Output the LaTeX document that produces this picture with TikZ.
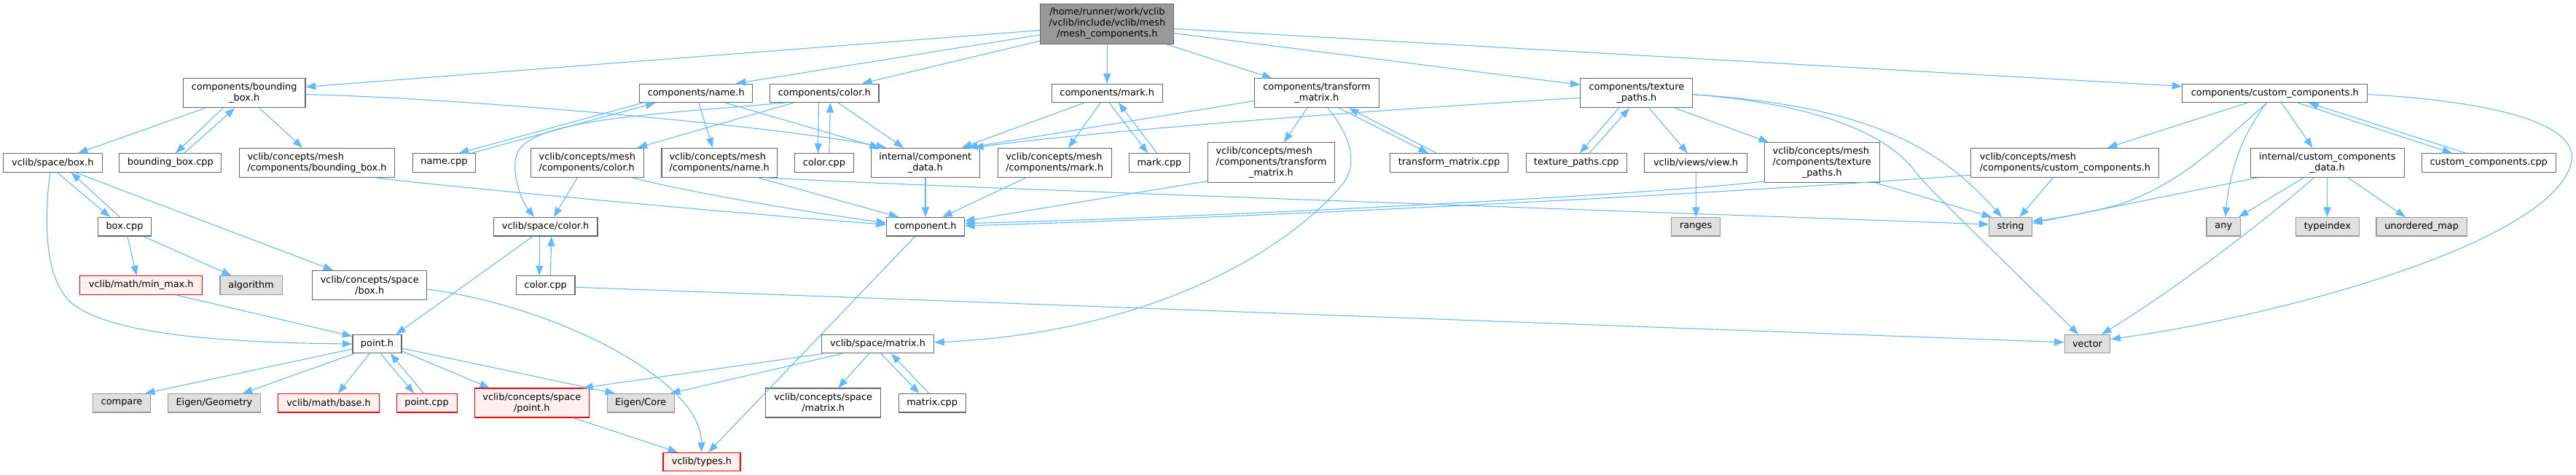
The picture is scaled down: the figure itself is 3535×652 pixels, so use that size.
\documentclass[tikz,border=0pt]{standalone}
\usepackage{fontspec}
\setmainfont{DejaVu Sans}
\usetikzlibrary{arrows.meta}
\definecolor{eb}{HTML}{63B8FF}
\definecolor{bd}{HTML}{666666}
\definecolor{gb}{HTML}{999999}
\definecolor{gf}{HTML}{E0E0E0}
\definecolor{rf}{HTML}{FFF0F0}
\definecolor{tf}{HTML}{999999}
\newcommand\nodefont{\fontsize{12.9}{15}\selectfont}
\begin{document}
\begin{tikzpicture}[x=1pt,y=-1pt,
  nd/.style={draw=bd, line width=1.1pt, fill=white, inner xsep=2pt, inner ysep=0pt, font=\nodefont, minimum height=25.4pt, text=black},
  gr/.style={nd, draw=gb, fill=gf},
  rd/.style={nd, draw=red, fill=rf},
  topnode/.style={nd, fill=tf},
  h2/.style={minimum height=40pt},
  h3/.style={minimum height=55pt},
  e/.style={-{Triangle[length=13.5pt,width=10pt]}, draw=eb, line width=1.1pt}]
\useasboundingbox (0,0) rectangle (3535,652);
% ---------- nodes
\node[topnode, minimum width=183pt, h3, align=center] (T) at (1519.4,32.6) {/home/runner/work/vclib\\/vclib/include/vclib/mesh\\/mesh\_components.h};
% row 2
\node[nd, minimum width=167.6pt, h2, align=center] (BB) at (335.2,127.85) {components/bounding\\\_box.h};
\node[nd, minimum width=155pt] (NM) at (955.2,127.85) {components/name.h};
\node[nd, minimum width=149.5pt] (CL) at (1131.2,127.85) {components/color.h};
\node[nd, minimum width=152pt] (MK) at (1519.2,127.85) {components/mark.h};
\node[nd, minimum width=171pt, h2, align=center] (TM) at (1806.9,127.85) {components/transform\\\_matrix.h};
\node[nd, minimum width=154pt, h2, align=center] (TP) at (2245.9,127.85) {components/texture\\\_paths.h};
\node[nd, minimum width=254pt] (CC) at (3121.8,127.85) {components/custom\_components.h};
% row 3
\node[nd, minimum width=135.5pt] (SB) at (72.3,223.5) {vclib/space/box.h};
\node[nd, minimum width=140pt] (BBC) at (233.8,223.5) {bounding\_box.cpp};
\node[nd, minimum width=213.5pt, h2, align=left] (CBB) at (435.1,223.3) {vclib/concepts/mesh\\/components/bounding\_box.h};
\node[nd, minimum width=86.4pt] (NC) at (609.5,223.5) {name.cpp};
\node[nd, minimum width=154.6pt, h2, align=left] (CCL) at (805.8,223.3) {vclib/concepts/mesh\\/components/color.h};
\node[nd, minimum width=158.5pt, h2, align=left] (CNM) at (987.2,223.3) {vclib/concepts/mesh\\/components/name.h};
\node[nd, minimum width=80.4pt] (CLC) at (1131,223.5) {color.cpp};
\node[nd, minimum width=149.2pt, h2, align=center] (ICD) at (1269.8,223.3) {internal/component\\\_data.h};
\node[nd, minimum width=155.8pt, h2, align=left] (CMK) at (1447.2,223.3) {vclib/concepts/mesh\\/components/mark.h};
\node[nd, minimum width=83pt] (MKC) at (1591,223.5) {mark.cpp};
\node[nd, minimum width=174.7pt, h3] (CTM) at (1744.5,223.3) {\begin{tabular}{@{}l@{}}vclib/concepts/mesh\\/components/transform\\\multicolumn{1}{@{}c@{}}{\_matrix.h}\end{tabular}};
\node[nd, minimum width=162.6pt] (TMC) at (1988.5,223.5) {transform\_matrix.cpp};
\node[nd, minimum width=138.5pt] (TPC) at (2163.3,223.5) {texture\_paths.cpp};
\node[nd, minimum width=141.5pt] (VW) at (2327,223.5) {vclib/views/view.h};
\node[nd, minimum width=157.7pt, h3] (CTP) at (2500.2,223.3) {\begin{tabular}{@{}l@{}}vclib/concepts/mesh\\/components/texture\\\multicolumn{1}{@{}c@{}}{\_paths.h}\end{tabular}};
\node[nd, minimum width=258pt, h2, align=left] (CCC) at (2833.9,223.3) {vclib/concepts/mesh\\/components/custom\_components.h};
\node[nd, minimum width=211pt, h2, align=center] (ICCD) at (3193.8,223.3) {internal/custom\_components\\\_data.h};
\node[nd, minimum width=184pt] (CCP) at (3415.2,223.5) {custom\_components.cpp};
% row 4
\node[nd, minimum width=73.5pt] (BXC) at (171,311.25) {box.cpp};
\node[nd, minimum width=142.7pt] (SCL) at (748.6,311.25) {vclib/space/color.h};
\node[nd, minimum width=106.8pt] (CH) at (1270,311.25) {component.h};
\node[gr, minimum width=67pt] (RG) at (2327.2,311.25) {ranges};
\node[gr, minimum width=58.6pt] (STR) at (2759.1,311.25) {string};
\node[gr, minimum width=46.6pt] (ANY) at (3051.3,311.25) {any};
\node[gr, minimum width=87.1pt] (TIX) at (3193.9,311.25) {typeindex};
\node[gr, minimum width=124.3pt] (UM) at (3323.1,311.25) {unordered\_map};
% row 5
\node[rd, minimum width=168pt] (MM) at (193.8,391.5) {vclib/math/min\_max.h};
\node[gr, minimum width=85.3pt] (ALG) at (344.6,391.5) {algorithm};
\node[nd, minimum width=157.2pt, h2, align=center] (CSB) at (507.2,391.5) {vclib/concepts/space\\/box.h};
\node[nd, minimum width=80.3pt] (SCC) at (748.8,391.5) {color.cpp};
% row 6
\node[nd, minimum width=67pt] (PH) at (517.5,472.15) {point.h};
\node[nd, minimum width=154.5pt] (SM) at (1204.5,472.15) {vclib/space/matrix.h};
\node[gr, minimum width=62.8pt] (VEC) at (2864.5,472.15) {vector};
% row 7
\node[gr, minimum width=79.2pt] (CMP) at (167,553.25) {compare};
\node[gr, minimum width=127pt] (EG) at (293.9,553.25) {Eigen/Geometry};
\node[rd, minimum width=139.3pt] (MB) at (451.1,553.25) {vclib/math/base.h};
\node[rd, minimum width=83pt] (PC) at (585.6,553.25) {point.cpp};
\node[rd, minimum width=157.2pt, h2, align=center] (CSP) at (729.8,553) {vclib/concepts/space\\/point.h};
\node[gr, minimum width=91.9pt] (EC) at (879.2,553.25) {Eigen/Core};
\node[nd, minimum width=158pt, h2, align=center] (CSM) at (1129.7,553) {vclib/concepts/space\\/matrix.h};
\node[nd, minimum width=92.2pt] (MXC) at (1279.2,553.25) {matrix.cpp};
% row 8
\node[rd, minimum width=106pt] (TY) at (963,634) {vclib/types.h};
% ---------- edges
\draw[e] (T.west |- 0,41.6) -- (BB.east |- 0,119.3);
\draw[e] (T.west |- 0,47.8) -- (1010,0 |- NM.north);
\draw[e] (T.west |- 0,56.1) -- (1183,0 |- CL.north);
\draw[e] (1519.2,0 |- T.south) -- (1519.2,0 |- MK.north);
\draw[e] (1600,0 |- T.south) -- (1745.5,0 |- TM.north);
\draw[e] (T.east |- 0,45.7) -- (TP.west |- 0,116.4);
\draw[e] (T.east |- 0,39.5) -- (CC.west |- 0,118.5);
% bounding box
\draw[e] (281.3,0 |- BB.south) -- (107,0 |- SB.north);
\draw[e] (306,0 |- BB.south) -- (241,0 |- BBC.north);
\draw[e] (252.6,0 |- BBC.north) -- (322.2,0 |- BB.south);
\draw[e] (356,0 |- BB.south) -- (415.2,0 |- CBB.north);
\draw[e] (BB.east |- 0,129.7) .. controls (600,133) and (1050,170) .. (1216,0 |- ICD.north);
\draw[e] (514.7,0 |- CBB.south) .. controls (600,255) and (1000,292) .. (CH.west |- 0,308.3);
\draw[e] (78.4,0 |- SB.south) -- (151.1,0 |- BXC.north);
\draw[e] (164.5,0 |- BXC.north) -- (97.6,0 |- SB.south);
\draw[e] (103.3,0 |- SB.south) -- (457.3,0 |- CSB.north);
\draw[e] (68.9,0 |- SB.south) .. controls (60,300) and (60,390) .. (103.3,420) .. controls (150,452) and (260,470) .. (PH.west |- 0,472);
\draw[e] (174.9,0 |- BXC.south) -- (187.5,0 |- MM.north);
\draw[e] (197.1,0 |- BXC.south) -- (317.6,0 |- ALG.north);
\draw[e] (241.1,0 |- MM.south) -- (PH.west |- 0,461.6);
\draw[e] (CSB.east |- 0,397) .. controls (760,420) and (962,520) .. (962.7,0 |- TY.north);
% point.h
\draw[e] (PH.west |- 0,479) -- (199,0 |- CMP.north);
\draw[e] (486,0 |- PH.south) -- (332.9,0 |- EG.north);
\draw[e] (507,0 |- PH.south) -- (463.8,0 |- MB.north);
\draw[e] (522.3,0 |- PH.south) -- (568.2,0 |- PC.north);
\draw[e] (581.6,0 |- PC.north) -- (535.7,0 |- PH.south);
\draw[e] (PH.east |- 0,482) -- (671.8,0 |- CSP.north);
\draw[e] (PH.east |- 0,478) -- (844,0 |- EC.north);
\draw[e] (786.6,0 |- CSP.south) -- (930,0 |- TY.north);
% name
\draw[e] (882.3,0 |- NM.south) -- (629.7,0 |- NC.north);
\draw[e] (647,0 |- NC.north) -- (899.5,0 |- NM.south);
\draw[e] (958.8,0 |- NM.south) -- (978,0 |- CNM.north);
\draw[e] (995.2,0 |- NM.south) -- (1207,0 |- ICD.north);
\draw[e] (1040,0 |- CNM.south) -- (1233.3,0 |- CH.north);
\draw[e] (1050,0 |- CNM.south) .. controls (1300,258) and (2300,292) .. (STR.west |- 0,308);
% color
\draw[e] (1123.4,0 |- CL.south) -- (1122.6,0 |- CLC.north);
\draw[e] (1137.9,0 |- CLC.north) -- (1139.4,0 |- CL.south);
\draw[e] (1088.9,0 |- CL.south) -- (874.6,0 |- CCL.north);
\draw[e] (1150.2,0 |- CL.south) -- (1240,0 |- ICD.north);
\draw[e] (1077.5,0 |- CL.south) .. controls (880,158) and (730,165) .. (710,210) .. controls (700,235) and (715,275) .. (733.1,0 |- SCL.north);
\draw[e] (792.4,0 |- CCL.south) -- (759.8,0 |- SCL.north);
\draw[e] (867,0 |- CCL.south) .. controls (950,265) and (1100,290) .. (CH.west |- 0,306);
\draw[e] (740.7,0 |- SCL.south) -- (740,0 |- SCC.north);
\draw[e] (755.3,0 |- SCC.north) -- (756.8,0 |- SCL.south);
\draw[e] (731.2,0 |- SCL.south) -- (543.4,0 |- PH.north);
\draw[e] (SCC.east |- 0,394.2) -- (VEC.west |- 0,469.9);
% mark
\draw[e] (1488,0 |- MK.south) -- (1320,0 |- ICD.north);
\draw[e] (1510.1,0 |- MK.south) -- (1466.1,0 |- CMK.north);
\draw[e] (1522,0 |- MK.south) -- (1575.2,0 |- MKC.north);
\draw[e] (1587.8,0 |- MKC.north) -- (1535,0 |- MK.south);
\draw[e] (1408,0 |- CMK.south) -- (1293.3,0 |- CH.north);
\draw[e] (1270,0 |- ICD.south) -- (1270,0 |- CH.north);
\draw[e] (1255.7,0 |- CH.south) -- (972.2,0 |- TY.north);
% transform matrix
\draw[e] (TM.west |- 0,138.5) -- (1328,0 |- ICD.north);
\draw[e] (1793.6,0 |- TM.south) -- (1762,0 |- CTM.north);
\draw[e] (1837.6,0 |- TM.south) -- (1960,0 |- TMC.north);
\draw[e] (1971.5,0 |- TMC.north) -- (1851,0 |- TM.south);
\draw[e] (1822.3,0 |- TM.south) .. controls (1860,195) and (1860,230) .. (1843,252) .. controls (1780,330) and (1600,455) .. (SM.east |- 0,470);
\draw[e] (CTM.west |- 0,248.7) -- (CH.east |- 0,303.3);
% texture paths
\draw[e] (TP.west |- 0,134.3) .. controls (1900,150) and (1500,180) .. (1336,0 |- ICD.north);
\draw[e] (2221.4,0 |- TP.south) -- (2167.8,0 |- TPC.north);
\draw[e] (2180.8,0 |- TPC.north) -- (2236,0 |- TP.south);
\draw[e] (2263.1,0 |- TP.south) -- (2315.9,0 |- VW.north);
\draw[e] (2298.7,0 |- TP.south) -- (2427.1,0 |- CTP.north);
\draw[e] (TP.east |- 0,129.7) .. controls (2560,145) and (2660,200) .. (2747,0 |- STR.north);
\draw[e] (TP.east |- 0,129.7) .. controls (2520,145) and (2600,195) .. (2630,238) .. controls (2650,262) and (2700,310) .. (2852,0 |- VEC.north);
\draw[e] (2327.4,0 |- VW.south) -- (2327.4,0 |- RG.north);
\draw[e] (CTP.west |- 0,248.7) .. controls (2300,265) and (1700,297) .. (CH.east |- 0,306.7);
\draw[e] (2575,0 |- CTP.south) -- (2733,0 |- STR.north);
% custom components
\draw[e] (3084.3,0 |- CC.south) -- (2892.1,0 |- CCC.north);
\draw[e] (3130.9,0 |- CC.south) -- (3173.4,0 |- ICCD.north);
\draw[e] (3153.1,0 |- CC.south) -- (3365,0 |- CCP.north);
\draw[e] (3384,0 |- CCP.north) -- (3168,0 |- CC.south);
\draw[e] (3110.6,0 |- CC.south) .. controls (3080,180) and (3060,230) .. (3053.9,0 |- ANY.north);
\draw[e] (3110.6,0 |- CC.south) .. controls (3040,205) and (2980,260) .. (2900,283) .. controls (2860,293) and (2820,300) .. (STR.east |- 0,303.5);
\draw[e] (CC.east |- 0,129.6) .. controls (3400,138) and (3545,165) .. (3528,225) .. controls (3500,330) and (3150,430) .. (VEC.east |- 0,465.7);
\draw[e] (3161.2,0 |- ICCD.south) -- (3072,0 |- ANY.north);
\draw[e] (3193.6,0 |- ICCD.south) -- (3193.6,0 |- TIX.north);
\draw[e] (3222,0 |- ICCD.south) -- (3301,0 |- UM.north);
\draw[e] (3175.4,0 |- ICCD.south) .. controls (3100,310) and (2980,400) .. (2884,0 |- VEC.north);
\draw[e] (3098.5,0 |- ICCD.south) -- (STR.east |- 0,306.5);
\draw[e] (CCC.west |- 0,240.3) .. controls (2300,270) and (1700,299) .. (CH.east |- 0,310);
\draw[e] (2817.4,0 |- CCC.south) -- (2771.5,0 |- STR.north);
% matrix
\draw[e] (1130,0 |- SM.south) -- (800,0 |- CSP.north);
\draw[e] (1155.9,0 |- SM.south) -- (920,0 |- EC.north);
\draw[e] (1192.5,0 |- SM.south) -- (1150.2,0 |- CSM.north);
\draw[e] (1209,0 |- SM.south) -- (1261.4,0 |- MXC.north);
\draw[e] (1274.8,0 |- MXC.north) -- (1223,0 |- SM.south);
\end{tikzpicture}
\end{document}
